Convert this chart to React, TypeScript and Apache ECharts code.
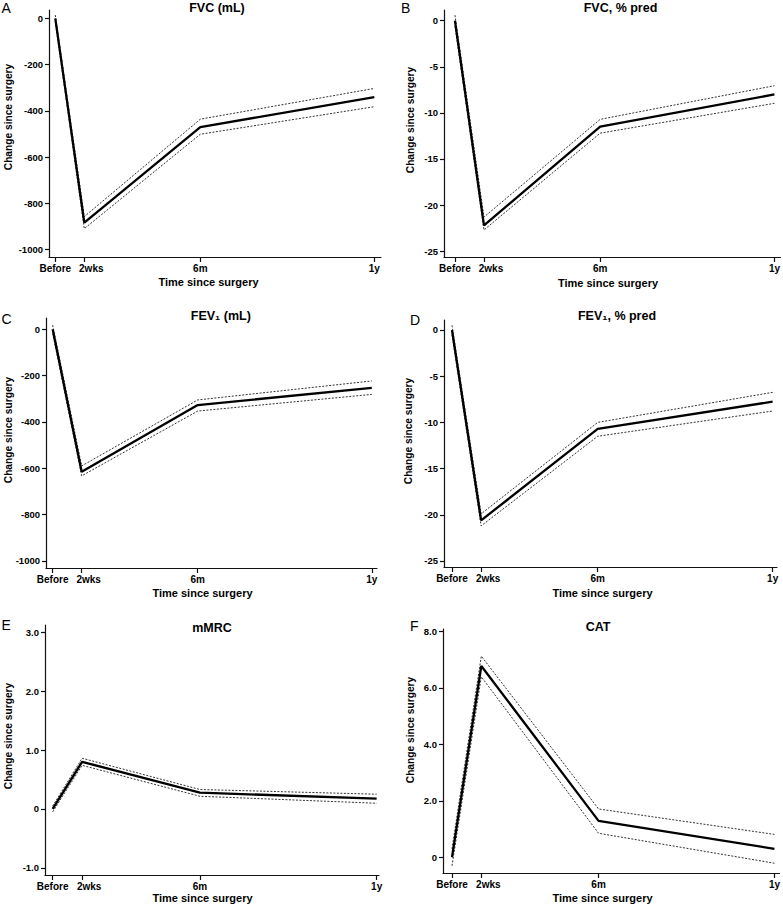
import React, { useEffect, useRef } from 'react';
import * as echarts from 'echarts';

// ---- data ----
const timeLabels = ['Before', '2wks', '6m', '1y'];
const timePositions = [0, 1, 5, 11];

const fvcMlMean = [0, -883, -470, -341];
const fvcMlUpper = [14, -857, -436, -303];
const fvcMlLower = [-14, -909, -501, -382];
const fvcMlTicks = [0, -200, -400, -600, -800, -1000];

const fvcPredMean = [0, -22.2, -11.5, -8.0];
const fvcPredUpper = [0.6, -21.3, -10.7, -7.05];
const fvcPredLower = [-0.6, -22.7, -12.2, -8.96];
const fvcPredTicks = [0, -5, -10, -15, -20, -25];

const fev1MlMean = [0, -615, -327, -253];
const fev1MlUpper = [18, -590, -305, -223];
const fev1MlLower = [-18, -633, -353, -281];
const fev1MlTicks = [0, -200, -400, -600, -800, -1000];

const fev1PredMean = [0, -20.6, -10.7, -7.76];
const fev1PredUpper = [0.5, -19.9, -10.0, -6.75];
const fev1PredLower = [-0.5, -21.2, -11.5, -8.77];
const fev1PredTicks = [0, -5, -10, -15, -20, -25];

const mmrcMean = [0, 0.8, 0.276, 0.175];
const mmrcUpper = [0.05, 0.86, 0.33, 0.25];
const mmrcLower = [-0.05, 0.74, 0.215, 0.097];
const mmrcTicks = [3, 2, 1, 0, -1];

const catMean = [0, 6.77, 1.29, 0.3];
const catUpper = [0.3, 7.12, 1.71, 0.81];
const catLower = [-0.3, 6.39, 0.85, -0.21];
const catTicks = [8, 6, 4, 2, 0];

const titles = ['FVC (mL)', 'FVC, % pred', 'FEV\u2081 (mL)', 'FEV\u2081, % pred', 'mMRC', 'CAT'];
const letters = ['A', 'B', 'C', 'D', 'E', 'F'];
const yTitle = 'Change since surgery';
const xTitle = 'Time since surgery';

const FONT = "'Liberation Sans', Arial, Helvetica, sans-serif";

const intFmt = (v: number) => String(v);
const decFmt = (v: number) => (v === 0 ? '0' : v.toFixed(1));

// ---- layout (positions only) ----
const panels = [
  { mean: fvcMlMean, up: fvcMlUpper, lo: fvcMlLower, ticks: fvcMlTicks, fmt: intFmt,
    grid: { left: 49, top: 10, width: 332, height: 247 }, x: [-0.217, 11.23], y: [-1031.5, 35.9],
    title: [217, 7.5], letter: [1.5, 7.5], yName: [8.7, 117], xName: [208.5, 282] },
  { mean: fvcPredMean, up: fvcPredUpper, lo: fvcPredLower, ticks: fvcPredTicks, fmt: intFmt,
    grid: { left: 444, top: 10, width: 338, height: 247 }, x: [-0.377, 11.21], y: [-25.63, 1.16],
    title: [620.5, 7.5], letter: [401, 7.5], yName: [410, 120], xName: [608, 283] },
  { mean: fev1MlMean, up: fev1MlUpper, lo: fev1MlLower, ticks: fev1MlTicks, fmt: intFmt,
    grid: { left: 46, top: 318, width: 331, height: 250 }, x: [-0.23, 11.18], y: [-1030.7, 48.8],
    title: [220.8, 315.5], letter: [1.5, 319], yName: [8.3, 430], xName: [202.5, 592.5] },
  { mean: fev1PredMean, up: fev1PredUpper, lo: fev1PredLower, ticks: fev1PredTicks, fmt: intFmt,
    grid: { left: 444, top: 320, width: 333, height: 247 }, x: [-0.274, 11.15], y: [-25.65, 1.08],
    title: [617, 315.5], letter: [410, 320], yName: [408.3, 431], xName: [602.5, 592.5] },
  { mean: mmrcMean, up: mmrcUpper, lo: mmrcLower, ticks: mmrcTicks, fmt: decFmt,
    grid: { left: 45, top: 625, width: 334, height: 250 }, x: [-0.26, 11.08], y: [-1.12, 3.12],
    title: [212, 627.5], letter: [1.5, 625], yName: [8, 736], xName: [202.5, 898] },
  { mean: catMean, up: catUpper, lo: catLower, ticks: catTicks, fmt: decFmt,
    grid: { left: 443, top: 629, width: 337, height: 244 }, x: [-0.307, 11.17], y: [-0.556, 8.08],
    title: [598, 626.5], letter: [410, 625.5], yName: [410, 730], xName: [602.5, 897.5] },
];

const toPts = (vals: number[]) => timePositions.map((t, i) => [t, vals[i]]);

export default function App() {
  const ref = useRef<HTMLDivElement>(null);
  useEffect(() => {
    if (!ref.current) return;
    const chart = echarts.init(ref.current, undefined, { renderer: 'svg' });

    const grid: any[] = [];
    const xAxis: any[] = [];
    const yAxis: any[] = [];
    const series: any[] = [];
    const graphic: any[] = [];

    panels.forEach((p, i) => {
      grid.push({ ...p.grid, containLabel: false });
      xAxis.push({
        type: 'value', gridIndex: i, min: p.x[0], max: p.x[1],
        splitLine: { show: false },
        axisLine: { show: true, onZero: false, lineStyle: { color: '#111', width: 1.2 } },
        axisTick: { show: true, length: 5, customValues: timePositions, lineStyle: { color: '#111', width: 1.2 } },
        axisLabel: {
          customValues: timePositions, margin: 6, fontSize: 10, fontWeight: 'bold', color: '#000', fontFamily: FONT,
          formatter: (v: number) => {
            const idx = timePositions.indexOf(v);
            if (idx < 0) return '';
            if (idx === 1) return '{r|' + timeLabels[idx] + '}';
            return timeLabels[idx];
          },
          rich: { r: { padding: [0, 0, 0, 14], fontSize: 10, fontWeight: 'bold', color: '#000', fontFamily: FONT } },
        },
      });
      yAxis.push({
        type: 'value', gridIndex: i, min: p.y[0], max: p.y[1],
        splitLine: { show: false },
        axisLine: { show: true, onZero: false, lineStyle: { color: '#111', width: 1.2 } },
        axisTick: { show: true, length: 4, customValues: p.ticks, lineStyle: { color: '#111', width: 1.2 } },
        axisLabel: {
          customValues: p.ticks, margin: 6, fontSize: 9.5, fontWeight: 'bold', color: '#000', fontFamily: FONT,
          formatter: (v: number) => p.fmt(v),
        },
      });
      const dotted = { color: '#333', width: 1, type: [2, 1.5] };
      series.push(
        { type: 'line', xAxisIndex: i, yAxisIndex: i, data: toPts(p.up), symbol: 'none', lineStyle: dotted, z: 2 },
        { type: 'line', xAxisIndex: i, yAxisIndex: i, data: toPts(p.lo), symbol: 'none', lineStyle: dotted, z: 2 },
        { type: 'line', xAxisIndex: i, yAxisIndex: i, data: toPts(p.mean), symbol: 'none',
          lineStyle: { color: '#000', width: 2.3 }, z: 3 },
      );
      graphic.push(
        { type: 'text', x: p.title[0], y: p.title[1],
          style: { text: titles[i], fontSize: 12.5, fontWeight: 'bold', fontFamily: FONT, fill: '#000', textAlign: 'center', textVerticalAlign: 'middle' } },
        { type: 'text', x: p.letter[0], y: p.letter[1],
          style: { text: letters[i], fontSize: 14, fontFamily: FONT, fill: '#000', textAlign: 'left', textVerticalAlign: 'middle' } },
        { type: 'text', x: p.yName[0], y: p.yName[1], rotation: Math.PI / 2,
          style: { text: yTitle, fontSize: 10.2, fontWeight: 'bold', fontFamily: FONT, fill: '#000', textAlign: 'center', textVerticalAlign: 'middle' } },
        { type: 'text', x: p.xName[0], y: p.xName[1],
          style: { text: xTitle, fontSize: 11, fontWeight: 'bold', fontFamily: FONT, fill: '#000', textAlign: 'center', textVerticalAlign: 'middle' } },
      );
    });

    chart.setOption({
      animation: false,
      backgroundColor: '#fff',
      grid, xAxis, yAxis, series, graphic,
    });
    return () => chart.dispose();
  }, []);

  return <div ref={ref} style={{ position: 'fixed', left: 0, top: 0, width: 783, height: 906 }} />;
}
